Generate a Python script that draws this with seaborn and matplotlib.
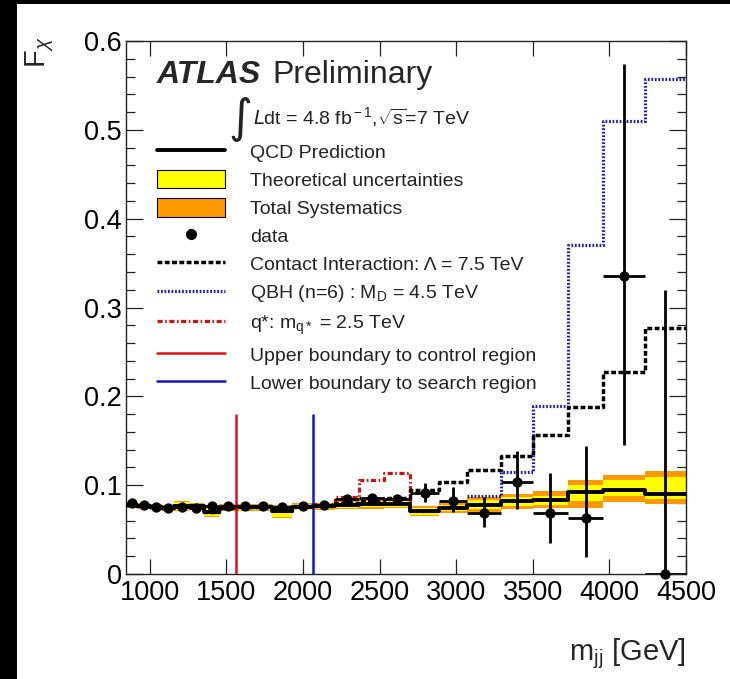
import numpy as np
import pandas as pd
import matplotlib
matplotlib.use("Agg")
import matplotlib.pyplot as plt
import seaborn as sns
from matplotlib.lines import Line2D
from matplotlib.patches import Patch, Rectangle

# ---------------- data ----------------
edges = [845, 920, 1000, 1080, 1160, 1255, 1355, 1455, 1560, 1680, 1800, 1930, 2065,
         2210, 2365, 2530, 2700, 2890, 3070, 3290, 3500, 3730, 3960, 4230, 4500]

data_f = [0.0795, 0.0776, 0.0750, 0.0740, 0.0757, 0.0740, 0.0765, 0.0770, 0.0765, 0.0765,
          0.0750, 0.0765, 0.0776, 0.0843, 0.0860, 0.0840, 0.0914, 0.0824, 0.0690, 0.1037,
          0.0690, 0.0630, 0.3350, 0.0000]
data_up = [0.002, 0.002, 0.002, 0.002, 0.002, 0.002, 0.002, 0.0025, 0.0025, 0.003,
           0.003, 0.003, 0.0035, 0.004, 0.0045, 0.005, 0.011, 0.015, 0.018, 0.035,
           0.045, 0.081, 0.239, 0.320]
data_dn = [0.002, 0.002, 0.002, 0.002, 0.002, 0.002, 0.002, 0.0025, 0.0025, 0.003,
           0.003, 0.003, 0.0035, 0.004, 0.0045, 0.005, 0.010, 0.013, 0.016, 0.031,
           0.034, 0.044, 0.190, 0.000]

qcd = [0.0775, 0.0765, 0.0750, 0.0745, 0.0765, 0.0760, 0.0700, 0.0745, 0.0750, 0.0750,
       0.0705, 0.0755, 0.0760, 0.0775, 0.0785, 0.0790, 0.0705, 0.0745, 0.0775, 0.0820,
       0.0830, 0.0920, 0.0950, 0.0900]
theo_lo = [0.0750, 0.0740, 0.0725, 0.0720, 0.0720, 0.0730, 0.0655, 0.0715, 0.0720, 0.0720,
           0.0645, 0.0725, 0.0730, 0.0740, 0.0750, 0.0755, 0.0660, 0.0710, 0.0730, 0.0770,
           0.0780, 0.0820, 0.0876, 0.0840]
theo_hi = [0.0800, 0.0790, 0.0775, 0.0770, 0.0815, 0.0790, 0.0745, 0.0775, 0.0780, 0.0780,
           0.0765, 0.0785, 0.0790, 0.0810, 0.0820, 0.0825, 0.0740, 0.0780, 0.0830, 0.0870,
           0.0880, 0.1000, 0.1060, 0.1090]
tot_lo = [0.0740, 0.0730, 0.0715, 0.0710, 0.0710, 0.0720, 0.0645, 0.0705, 0.0710, 0.0710,
          0.0635, 0.0715, 0.0720, 0.0730, 0.0735, 0.0740, 0.0650, 0.0685, 0.0700, 0.0730,
          0.0740, 0.0740, 0.0810, 0.0787]
tot_hi = [0.0810, 0.0800, 0.0785, 0.0780, 0.0825, 0.0800, 0.0755, 0.0785, 0.0790, 0.0790,
          0.0775, 0.0795, 0.0800, 0.0820, 0.0835, 0.0840, 0.0760, 0.0810, 0.0870, 0.0900,
          0.0930, 0.1060, 0.1110, 0.1160]

ci = [0.0775, 0.0765, 0.0750, 0.0745, 0.0765, 0.0760, 0.0700, 0.0745, 0.0750, 0.0755,
      0.0720, 0.0760, 0.0770, 0.0800, 0.0820, 0.0850, 0.0940, 0.1040, 0.1170, 0.1330,
      0.1570, 0.1880, 0.2270, 0.2770]
qstar = [0.0775, 0.0765, 0.0750, 0.0745, 0.0765, 0.0760, 0.0700, 0.0745, 0.0750, 0.0750,
         0.0705, 0.0755, 0.0790, 0.0870, 0.1060, 0.1140, 0.0705]
qbh_edges = [3070, 3290, 3500, 3730, 3960, 4230, 4500]
qbh = [0.0880, 0.1150, 0.1890, 0.3700, 0.5100, 0.5570]

control_boundary = 1560
search_boundary = 2065
boundary_top = 0.18

x_ticks = [1000, 1500, 2000, 2500, 3000, 3500, 4000, 4500]
y_ticks = [0, 0.1, 0.2, 0.3, 0.4, 0.5, 0.6]
y_tick_labels = ["0", "0.1", "0.2", "0.3", "0.4", "0.5", "0.6"]

labels = ["QCD Prediction", "Theoretical uncertainties", "Total Systematics", "data",
          "Contact Interaction: \u039b = 7.5 TeV",
          "QBH (n=6) : M$_{\\rm D}$ = 4.5 TeV",
          "q*: m$_{\\rm q*}$ = 2.5 TeV",
          "Upper boundary to control region",
          "Lower boundary to search region"]

# ---------------- style ----------------
sns.set_theme(style="ticks")
plt.rcParams["font.family"] = ["Liberation Sans", "DejaVu Sans"]
plt.rcParams["mathtext.fontset"] = "custom"
plt.rcParams["mathtext.rm"] = "Liberation Sans"
plt.rcParams["mathtext.it"] = "Liberation Sans:italic"
plt.rcParams["mathtext.bf"] = "Liberation Sans:bold"
plt.rcParams["mathtext.cal"] = "DejaVu Sans:italic"

C_YEL = "#ffff00"
C_ORA = "#ff9900"
C_BLUE_DOT = "#1c1ca8"
C_RED_DOT = "#cc1111"
C_RED = "#e01010"
C_BLUE = "#1515c8"

fig = plt.figure(figsize=(7.3, 6.79), dpi=100)
fig.patch.set_facecolor("white")
fig.patches.append(Rectangle((0, 0), 17 / 730, 1, transform=fig.transFigure,
                             facecolor="black", edgecolor="none", zorder=-10))
fig.patches.append(Rectangle((0, 1 - 4 / 679), 1, 4 / 679, transform=fig.transFigure,
                             facecolor="black", edgecolor="none", zorder=-10))

ax = fig.add_axes([126 / 730, 1 - 574 / 679, 560 / 730, 533 / 679])

def ext(v):
    return list(v) + [v[-1]]

# bands
ax.fill_between(edges, ext(tot_lo), ext(tot_hi), step="post", color=C_ORA, lw=0, zorder=1)
ax.fill_between(edges, ext(theo_lo), ext(theo_hi), step="post", color=C_YEL, lw=0, zorder=2)

# signal curves
sns.lineplot(x=edges[:len(qstar) + 1], y=ext(qstar), drawstyle="steps-post", estimator=None,
             sort=False, color=C_RED_DOT, linewidth=2.3, linestyle=(0, (1.6, 0.8, 0.5, 0.8)),
             ax=ax, zorder=3)
sns.lineplot(x=qbh_edges, y=ext(qbh), drawstyle="steps-post", estimator=None, sort=False,
             color=C_BLUE_DOT, linewidth=2.3, linestyle=(0, (0.55, 0.55)), ax=ax, zorder=3)
sns.lineplot(x=edges, y=ext(ci), drawstyle="steps-post", estimator=None, sort=False,
             color="black", linewidth=2.5, linestyle=(0, (1.4, 0.7)), ax=ax, zorder=4)
# QCD prediction
sns.lineplot(x=edges, y=ext(qcd), drawstyle="steps-post", estimator=None, sort=False,
             color="black", linewidth=2.8, ax=ax, zorder=5)

# boundaries
ax.vlines([control_boundary], 0, boundary_top, color=C_RED, lw=1.8, zorder=6)
ax.vlines([search_boundary], 0, boundary_top, color=C_BLUE, lw=1.8, zorder=6)

# data
e = np.array(edges, dtype=float)
centers = (e[:-1] + e[1:]) / 2
halfw = (e[1:] - e[:-1]) / 2
ax.errorbar(centers, data_f, yerr=[data_dn, data_up], xerr=halfw, fmt="none",
            ecolor="black", elinewidth=2.0, capsize=0, zorder=7, clip_on=True)
sns.scatterplot(x=centers, y=data_f, color="black", s=55, edgecolor="black", linewidth=0,
                ax=ax, zorder=8, clip_on=False)

# axes
ax.set_xlim(845, 4500)
ax.set_ylim(0, 0.6)
ax.set_xticks(x_ticks)
ax.set_xticklabels([str(t) for t in x_ticks])
ax.set_yticks(y_ticks)
ax.set_yticklabels(y_tick_labels)
ax.set_yticks(np.arange(0, 0.6001, 0.02), minor=True)
ax.tick_params(axis="x", which="major", direction="in", top=True, bottom=True,
               length=11, width=0.9, labelsize=19.5, pad=4.5, colors="#222222",
               labelcolor="black")
ax.tick_params(axis="y", which="major", direction="in", left=True, right=True,
               length=12, width=0.9, labelsize=19.5, pad=3, colors="#222222",
               labelcolor="black")
ax.tick_params(axis="y", which="minor", direction="in", left=True, right=True,
               length=6.5, width=0.9, colors="#222222")
ax.tick_params(axis="x", which="minor", bottom=False, top=False)
for s in ax.spines.values():
    s.set_visible(True)
    s.set_linewidth(1.0)
    s.set_color("#222222")
ax.set_facecolor("white")

ax.set_xlabel("m$_{\\rm jj}$ [GeV]", fontsize=21, ha="right", va="baseline")
ax.xaxis.set_label_coords(1.0, -0.1614)
ax.set_ylabel("F$_{\\chi}$", fontsize=21, loc="top", va="baseline")
ax.yaxis.set_label_coords(-0.1446, 1.0075)

# texts
ax.text(0.0554, 0.9205, "ATLAS", transform=ax.transAxes, fontsize=23, fontweight="bold",
        fontstyle="italic", va="baseline", ha="left")
ax.text(0.2607, 0.9205, "Preliminary", transform=ax.transAxes, fontsize=23,
        va="baseline", ha="left")
ax.text(0.2255, 0.853, "\u222b", transform=ax.transAxes, fontsize=33, va="center",
        ha="right", family=["DejaVu Sans", "DejaVu Serif"], color="#222222")
ax.text(0.2268, 0.8574, "$\\mathcal{L}$dt = 4.8 fb$^{\\rm -1}$,$\\sqrt{\\rm s}$=7 TeV",
        transform=ax.transAxes, fontsize=14, va="center", ha="left", color="#222222")

# legend
handles = [
    Line2D([], [], color="black", lw=2.8),
    Patch(facecolor=C_YEL, edgecolor="black", lw=0.8),
    Patch(facecolor=C_ORA, edgecolor="black", lw=0.8),
    Line2D([], [], color="black", marker="o", ms=7, ls="none"),
    Line2D([], [], color="black", lw=2.5, ls=(0, (1.4, 0.7))),
    Line2D([], [], color=C_BLUE_DOT, lw=2.3, ls=(0, (0.55, 0.55))),
    Line2D([], [], color=C_RED_DOT, lw=2.3, ls=(0, (1.6, 0.8, 0.5, 0.8))),
    Line2D([], [], color=C_RED, lw=1.8),
    Line2D([], [], color=C_BLUE, lw=1.8),
]
leg = ax.legend(handles, labels, loc="upper left", bbox_to_anchor=(0.0554, 0.8105),
                frameon=False, fontsize=14, handlelength=3.5, handleheight=1.07,
                handletextpad=1.27, labelspacing=0.43, borderpad=0, borderaxespad=0)
for t in leg.get_texts():
    t.set_color("#222222")

fig.savefig("out.png", dpi=100, facecolor="white")
